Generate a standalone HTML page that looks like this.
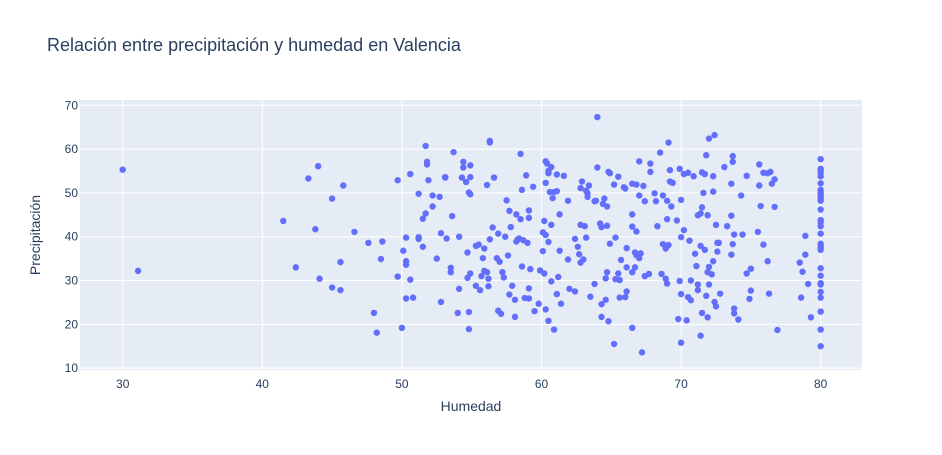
<!DOCTYPE html>
<html><head><meta charset="utf-8">
<style>
body{margin:0;background:#fff;}
svg text{font-family:"Liberation Sans",Arial,sans-serif;}
</style></head>
<body>
<svg id="chart" width="942" height="450" xmlns="http://www.w3.org/2000/svg">
<rect width="942" height="450" fill="#fff"/>
<text x="47" y="51" font-size="18" fill="#2a3f5f">Relación entre precipitación y humedad en Valencia</text>
<rect x="80" y="100" width="782" height="270" fill="#e5ecf6"/>
<g id="grid"></g>
<g id="points"></g>
<g id="xticks"></g>
<g id="yticks"></g>
<text x="471" y="411" font-size="14" fill="#2a3f5f" text-anchor="middle">Humedad</text>
<text transform="translate(40,235) rotate(-90)" font-size="14" fill="#2a3f5f" text-anchor="middle">Precipitación</text>
</svg>
<script>
const xTicks=[30,40,50,60,70,80];
const yTicks=[10,20,30,40,50,60,70];
const humedad=[30,31.1,44.0,43.3,45.8,45.0,41.5,43.8,46.6,47.6,48.6,48.5,45.6,42.4,44.1,45.0,45.6,48.0,48.2,
49.7,51.7,51.8,51.8,50.6,51.9,51.2,52.2,52.7,52.2,51.7,51.5,53.7,54.4,54.4,54.9,54.3,54.6,54.9,53.1,53.1,56.3,56.3,56.6,56.1,54.8,54.9,58.5,58.9,58.6,59.4,57.5,57.7,58.2,58.5,59.1,59.1,53.6,50.3,51.2,51.2,51.5,50.1,50.3,50.3,50.6,49.7,52.8,53.2,54.1,52.5,53.5,53.5,54.7,55.3,55.5,55.9,56.5,56.9,57.4,56.3,57.8,58.3,58.4,58.7,59.0,58.2,55.8,56.8,57.0,57.6,58.6,59.2,59.9,54.9,54.7,55.7,55.9,56.1,56.2,57.2,57.3,54.1,55.3,55.6,56.2,57.9,57.7,58.1,58.8,59.1,59.1,59.8,59.5,56.9,57.1,58.1,54.8,54.0,52.8,50.3,50.8,50.0,54.8,
64.0,69.1,68.5,67.0,67.8,67.8,69.2,69.9,70.2,70.5,60.3,60.4,60.7,60.5,60.5,61.1,61.6,64.0,64.8,64.9,65.5,65.2,65.9,66.0,66.5,66.8,67.3,62.9,63.4,62.8,63.2,63.3,63.3,60.3,60.6,60.9,61.1,60.8,61.9,63.8,63.9,64.5,64.4,64.7,67.0,67.4,68.1,68.2,68.7,69.0,69.3,69.4,69.2,70.0,61.3,66.5,60.2,60.7,62.8,63.1,64.2,64.3,64.7,66.5,66.8,68.3,69.0,69.7,70.2,70.0,70.6,60.1,60.3,60.5,60.1,62.4,62.6,63.2,64.9,65.3,66.1,62.7,63.0,62.8,61.9,61.3,66.7,66.8,67.1,67.0,65.7,66.1,66.7,66.5,68.7,69.0,69.1,68.9,68.6,68.9,69.0,67.4,67.7,64.7,64.6,65.3,65.5,65.6,63.8,60.7,61.2,60.2,69.9,62.0,62.4,61.1,61.4,63.5,64.3,64.6,65.6,66.0,66.1,70.0,70.5,60.3,60.5,60.9,64.3,64.8,66.5,69.8,70.4,65.2,67.2,70.0,
72.0,72.4,71.8,73.7,73.7,73.1,75.6,70.9,71.5,71.7,72.3,73.6,74.7,75.9,76.2,76.4,76.7,76.5,75.6,71.6,72.3,74.3,71.5,71.4,71.2,71.9,73.6,75.7,76.7,72.5,73.3,73.8,74.4,75.5,75.9,78.9,71.4,71.7,71.0,72.6,72.7,72.6,73.7,73.6,72.3,72.0,71.9,72.2,71.1,70.7,71.2,72.0,71.2,70.7,71.8,72.8,72.4,72.5,71.5,71.9,73.8,73.8,74.1,75.0,74.9,74.7,75.0,76.2,76.3,76.9,71.4,78.9,78.5,78.7,79.1,78.6,79.3,
80,80,80,80,80,80,80,80,80,80,80,80,80,80,80,80,80,80,80,80,80,80,80,80,80,80,80,80,80,80];
const precipitacion=[55.3,32.2,56.1,53.3,51.7,48.7,43.6,41.7,41.1,38.6,38.9,34.9,34.2,33.0,30.4,28.4,27.8,22.6,18.1,
52.9,60.7,57.1,56.5,54.3,52.9,49.8,49.4,49.1,46.9,45.3,44.1,59.3,57.1,55.8,56.3,53.5,52.5,53.6,53.6,53.5,61.9,61.5,53.5,51.8,50.1,49.7,58.9,54.0,50.7,51.4,48.3,45.9,45.1,44.0,46.0,44.3,44.7,39.8,39.9,39.5,37.7,36.8,34.4,33.6,30.2,30.9,40.8,39.6,40.0,35.0,32.9,31.9,36.4,37.9,38.2,37.3,42.1,40.7,40.0,39.4,42.2,39.4,39.6,39.2,38.6,38.9,35.1,35.1,34.3,35.7,33.2,32.6,32.3,31.6,30.6,31.0,32.2,31.9,30.4,31.9,30.7,28.1,28.8,27.8,28.7,28.8,26.8,25.6,26.0,25.9,28.2,24.7,23.0,23.1,22.4,21.7,22.8,22.6,25.1,25.9,26.1,19.2,18.9,
67.3,61.5,59.2,57.2,56.7,54.8,55.2,55.5,54.3,54.6,57.2,56.7,55.9,55.0,54.5,54.2,53.9,55.8,54.8,54.5,53.7,51.9,51.3,51.0,52.1,51.9,51.6,52.6,51.7,51.1,50.5,49.9,49.1,52.3,50.2,50.2,50.4,48.8,48.2,48.1,48.2,48.7,47.5,46.9,49.4,48.1,49.9,48.1,49.4,48.2,46.9,52.3,52.6,48.4,45.1,45.1,43.6,42.7,42.7,42.4,43.0,42.2,42.5,42.3,41.2,42.4,44.0,43.7,41.5,39.9,39.1,41.0,40.4,38.8,36.7,39.5,37.7,39.8,38.4,39.8,37.4,36.0,34.8,34.1,34.8,36.8,36.4,35.8,36.2,35.1,34.7,33.0,33.0,31.9,38.3,37.9,38.1,37.3,31.5,30.4,29.3,31.0,31.5,31.9,30.5,30.3,31.6,30.1,29.2,29.8,30.8,31.6,29.9,28.1,27.5,26.9,24.7,26.3,24.6,25.6,26.1,26.2,27.5,26.9,26.2,23.4,20.8,18.8,21.7,20.7,19.2,21.2,20.9,15.5,13.6,15.8,
62.4,63.2,58.6,58.4,57.1,55.9,56.5,53.8,54.7,54.3,53.8,52.1,53.9,54.6,54.5,54.8,53.1,52.1,51.7,50.0,50.3,49.4,46.7,45.3,44.9,44.9,44.8,47.0,46.8,42.7,42.4,40.5,40.5,41.1,38.2,40.2,37.9,37.0,36.1,38.6,38.6,36.6,38.3,35.9,34.4,33.1,31.9,31.4,33.3,30.0,29.1,29.1,27.8,25.5,26.5,27.0,25.1,24.1,22.6,21.6,23.6,22.5,21.1,27.7,25.8,31.6,32.7,34.4,27.0,18.7,17.4,35.9,34.1,32.0,29.2,26.1,21.6,
57.7,55.5,55.1,54.6,53.8,52.2,50.7,50.1,49.7,49.1,48.6,48.2,46.2,43.8,43.3,42.4,40.7,38.4,37.9,37.5,37.0,32.8,31.1,29.4,29.1,27.4,26.1,22.9,18.8,15.0];

const L=80,R=862,T=100,B=370;
const xMin=26.94,xMax=82.96,yMin=9.57,yMax=71.21;
const sx=v=>L+(v-xMin)/(xMax-xMin)*(R-L);
const sy=v=>B-(v-yMin)/(yMax-yMin)*(B-T);
const NS='http://www.w3.org/2000/svg';
const grid=document.getElementById('grid'),pts=document.getElementById('points');
const xt=document.getElementById('xticks'),yt=document.getElementById('yticks');
xTicks.forEach(t=>{
  const l=document.createElementNS(NS,'line');
  
  
  l.setAttribute('x1',sx(t));l.setAttribute('x2',sx(t));l.setAttribute('y1',T);l.setAttribute('y2',B);
  l.setAttribute('stroke','#fff');l.setAttribute('stroke-width','1');grid.appendChild(l);
  const tx=document.createElementNS(NS,'text');
  
  
  tx.setAttribute('x',sx(t));tx.setAttribute('y',B+18);tx.setAttribute('font-size','12');
  tx.setAttribute('fill','#2a3f5f');tx.setAttribute('text-anchor','middle');tx.textContent=t;xt.appendChild(tx);
});
yTicks.forEach(t=>{
  const l=document.createElementNS(NS,'line');
  
  
  l.setAttribute('x1',L);l.setAttribute('x2',R);l.setAttribute('y1',sy(t));l.setAttribute('y2',sy(t));
  l.setAttribute('stroke','#fff');l.setAttribute('stroke-width','1');grid.appendChild(l);
  const tx=document.createElementNS(NS,'text');
  
  
  tx.setAttribute('x',L-2);tx.setAttribute('y',sy(t)+4);tx.setAttribute('font-size','12');
  tx.setAttribute('fill','#2a3f5f');tx.setAttribute('text-anchor','end');tx.textContent=t;yt.appendChild(tx);
});
humedad.forEach((h,i)=>{
  const c=document.createElementNS(NS,'circle');
  
  
  c.setAttribute('cx',sx(h));c.setAttribute('cy',sy(precipitacion[i]));c.setAttribute('r','3.2');
  c.setAttribute('fill','#636efa');pts.appendChild(c);
});
</script>
</body></html>
